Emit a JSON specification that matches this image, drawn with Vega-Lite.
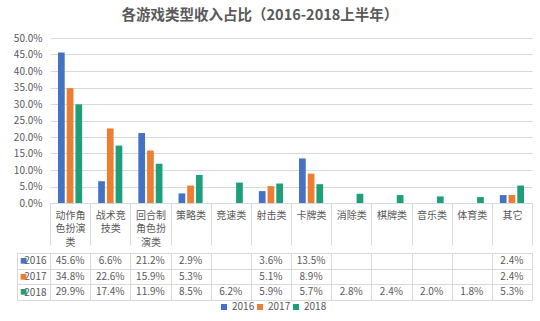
{
  "$schema": "https://vega.github.io/schema/vega-lite/v6.json",
  "padding": {"left": 13, "top": 7, "right": 5, "bottom": 5},
  "title": {"text": "各游戏类型收入占比（2016-2018上半年）", "fontSize": 14.5, "fontWeight": "bold", "color": "#595959", "font": "Noto Sans CJK SC", "anchor": "middle", "offset": 10, "dx": -13},
  "data": {"values": [
    {"category": "动作角色扮演类", "year": "2016", "value": 0.456},
    {"category": "动作角色扮演类", "year": "2017", "value": 0.348},
    {"category": "动作角色扮演类", "year": "2018", "value": 0.299},
    {"category": "战术竞技类", "year": "2016", "value": 0.066},
    {"category": "战术竞技类", "year": "2017", "value": 0.226},
    {"category": "战术竞技类", "year": "2018", "value": 0.174},
    {"category": "回合制角色扮演类", "year": "2016", "value": 0.212},
    {"category": "回合制角色扮演类", "year": "2017", "value": 0.159},
    {"category": "回合制角色扮演类", "year": "2018", "value": 0.119},
    {"category": "策略类", "year": "2016", "value": 0.029},
    {"category": "策略类", "year": "2017", "value": 0.053},
    {"category": "策略类", "year": "2018", "value": 0.085},
    {"category": "竞速类", "year": "2018", "value": 0.062},
    {"category": "射击类", "year": "2016", "value": 0.036},
    {"category": "射击类", "year": "2017", "value": 0.051},
    {"category": "射击类", "year": "2018", "value": 0.059},
    {"category": "卡牌类", "year": "2016", "value": 0.135},
    {"category": "卡牌类", "year": "2017", "value": 0.089},
    {"category": "卡牌类", "year": "2018", "value": 0.057},
    {"category": "消除类", "year": "2018", "value": 0.028},
    {"category": "棋牌类", "year": "2018", "value": 0.024},
    {"category": "音乐类", "year": "2018", "value": 0.020},
    {"category": "体育类", "year": "2018", "value": 0.018},
    {"category": "其它", "year": "2016", "value": 0.024},
    {"category": "其它", "year": "2017", "value": 0.024},
    {"category": "其它", "year": "2018", "value": 0.053}
  ]},
  "config": {
    "font": "Noto Sans CJK SC",
    "view": {"stroke": "#d9d9d9"},
    "text": {"font": "Noto Sans CJK SC"}
  },
  "spacing": 0,
  "vconcat": [
    {
      "width": 482,
      "height": 165,
      "view": {"stroke": null},
      "mark": {"type": "bar"},
      "encoding": {
        "x": {
          "field": "category", "type": "nominal",
          "sort": ["动作角色扮演类", "战术竞技类", "回合制角色扮演类", "策略类", "竞速类", "射击类", "卡牌类", "消除类", "棋牌类", "音乐类", "体育类", "其它"],
          "scale": {"paddingInner": 0, "paddingOuter": 0},
          "axis": {
            "title": null, "labelAngle": 0, "domainColor": "#d9d9d9", "tickColor": "#d9d9d9",
            "tickBand": "extent", "tickSize": 42, "labelPadding": -30, "labelBaseline": "middle",
            "labelFontSize": 10, "labelColor": "#595959", "labelLineHeight": 13.5,
            "labelExpr": "length(datum.label) <= 3 ? datum.label : (length(datum.label) <= 6 ? [substring(datum.label, 0, 3), substring(datum.label, 3)] : [substring(datum.label, 0, 3), substring(datum.label, 3, 6), substring(datum.label, 6)])",
            "minExtent": 42, "maxExtent": 42, "labelOverlap": false, "labelLimit": 0
          }
        },
        "xOffset": {"field": "year", "type": "nominal", "scale": {"paddingInner": 0.23, "paddingOuter": 0.92}},
        "y": {
          "field": "value", "type": "quantitative",
          "scale": {"domain": [0, 0.5]},
          "axis": {
            "values": [0, 0.05, 0.1, 0.15, 0.2, 0.25, 0.3, 0.35, 0.4, 0.45, 0.5],
            "format": ".1%", "title": null, "grid": true, "gridColor": "#d9d9d9",
            "domain": false, "ticks": false, "labelPadding": 8, "labelFontSize": 10,
            "labelColor": "#595959", "minExtent": 33, "maxExtent": 33
          }
        },
        "color": {
          "field": "year", "type": "nominal",
          "scale": {"domain": ["2016", "2017", "2018"], "range": ["#4472C4", "#ED7D31", "#1E9E7A"]},
          "legend": {
            "orient": "none", "legendX": 169, "legendY": 264, "direction": "horizontal",
            "title": null, "symbolType": "square", "symbolSize": 36, "labelFontSize": 10,
            "labelColor": "#595959", "columnPadding": 0, "labelOffset": 3, "symbolStrokeWidth": 0
          }
        }
      }
    },
    {
      "width": 482,
      "height": 47,
      "resolve": {"axis": {"y": "independent"}},
      "layer": [
        {
          "mark": {"type": "rect", "fillOpacity": 0, "strokeOpacity": 0},
          "encoding": {
            "x": {
              "field": "category", "type": "nominal",
              "sort": ["动作角色扮演类", "战术竞技类", "回合制角色扮演类", "策略类", "竞速类", "射击类", "卡牌类", "消除类", "棋牌类", "音乐类", "体育类", "其它"],
              "scale": {"paddingInner": 0, "paddingOuter": 0},
              "axis": {"title": null, "labels": false, "ticks": false, "domain": false, "grid": true, "tickBand": "extent", "gridColor": "#d9d9d9", "minExtent": 0, "maxExtent": 0}
            },
            "y": {
              "field": "year", "type": "nominal",
              "sort": ["2016", "2017", "2018"],
              "scale": {"paddingInner": 0, "paddingOuter": 0},
              "axis": {
                "orient": "left", "offset": 33, "title": null, "grid": false, "ticks": false,
                "domain": true, "domainColor": "#d9d9d9",
                "labelExpr": "'■'", "labelFontSize": 7, "labelAlign": "center", "labelBaseline": "middle",
                "labelPadding": -6, "minExtent": 0, "maxExtent": 0,
                "labelColor": {"condition": [{"test": "datum.value === '2016'", "value": "#4472C4"}, {"test": "datum.value === '2017'", "value": "#ED7D31"}], "value": "#1E9E7A"}
              }
            }
          }
        },
        {
          "mark": {"type": "text", "fontSize": 10, "color": "#595959"},
          "encoding": {
            "x": {
              "field": "category", "type": "nominal",
              "sort": ["动作角色扮演类", "战术竞技类", "回合制角色扮演类", "策略类", "竞速类", "射击类", "卡牌类", "消除类", "棋牌类", "音乐类", "体育类", "其它"],
              "scale": {"paddingInner": 0, "paddingOuter": 0},
              "axis": {"title": null, "labels": false, "ticks": false, "domain": false, "grid": true, "tickBand": "extent", "gridColor": "#d9d9d9", "minExtent": 0, "maxExtent": 0}
            },
            "y": {
              "field": "year", "type": "nominal",
              "sort": ["2016", "2017", "2018"],
              "axis": {
                "orient": "left", "title": null, "grid": true, "gridColor": "#d9d9d9", "tickBand": "extent",
                "ticks": true, "tickSize": 33, "tickColor": "#d9d9d9", "domain": false,
                "labelPadding": -29, "labelAlign": "right", "labelBaseline": "middle",
                "labelFontSize": 10, "labelColor": "#595959", "minExtent": 33, "maxExtent": 33
              }
            },
            "text": {"field": "value", "type": "quantitative", "format": ".1%"}
          }
        }
      ]
    }
  ]
}
